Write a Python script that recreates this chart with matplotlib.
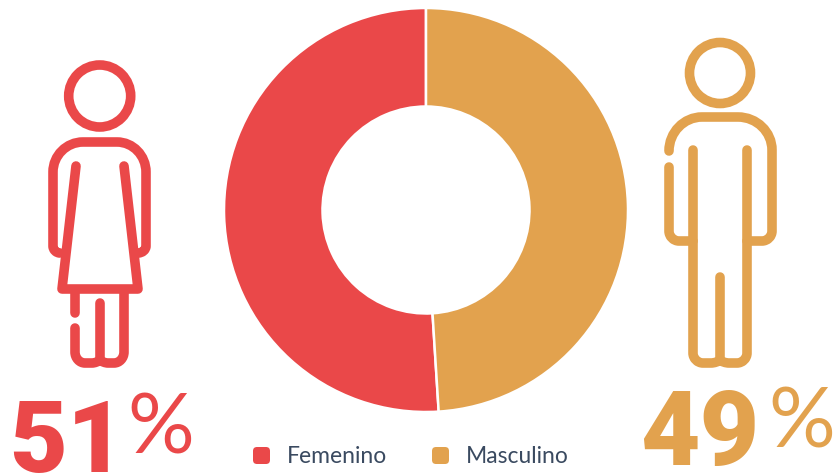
import matplotlib
matplotlib.use("Agg")
import matplotlib.pyplot as plt
from matplotlib.path import Path
from matplotlib.patches import PathPatch, Circle, FancyBboxPatch

categories = ["Femenino", "Masculino"]
values = [51, 49]
colors = ["#EA4849", "#E2A24E"]
W, H = 834, 475
LW = 9.6

fig = plt.figure(figsize=(W / 100, H / 100), dpi=100)
ax = fig.add_axes([0, 0, 1, 1])
ax.pie(values, colors=colors, startangle=90, counterclock=True, center=(426, H - 210), radius=202,
       wedgeprops=dict(width=98.5, edgecolor="white", linewidth=1.8))
ax.set_xlim(0, W)
ax.set_ylim(0, H)
ax.set_aspect("equal")
ax.axis("off")


def Y(y):
    return H - y


def stroke(segs, color, lw=LW):
    """segs: start point then (x, y) for lines, or ('c', ctrl, end) for a rounded corner."""
    verts = [(segs[0][0], Y(segs[0][1]))]
    codes = [Path.MOVETO]
    cur = segs[0]
    for s in segs[1:]:
        if s[0] == "c":
            c, e = s[1], s[2]
            k = 0.55
            verts += [(cur[0] + (c[0] - cur[0]) * k, Y(cur[1] + (c[1] - cur[1]) * k)),
                      (e[0] + (c[0] - e[0]) * k, Y(e[1] + (c[1] - e[1]) * k)),
                      (e[0], Y(e[1]))]
            codes += [Path.CURVE4] * 3
            cur = e
        else:
            verts.append((s[0], Y(s[1])))
            codes.append(Path.LINETO)
            cur = s
    ax.add_patch(PathPatch(Path(verts, codes), fill=False, edgecolor=color, lw=lw * 0.72,
                           capstyle="round", joinstyle="round"))


# Woman icon
r = colors[0]
ax.add_patch(Circle((99.7, Y(96)), 31, fill=False, edgecolor=r, lw=LW * 0.72))
stroke([(60, 253), ("c", (53, 253), (53, 246)), (53, 172), ("c", (53, 142), (83, 142)), (117, 142),
        ("c", (146, 142), (146, 172)), (146, 246), ("c", (146, 253), (138, 253))], r)
stroke([(76, 166), (62, 289), (138, 289), (124, 166)], r)
stroke([(75, 290), (75, 313)], r)
stroke([(75, 328), (75, 352), ("c", (75, 363), (85, 363)), (92, 363), ("c", (97, 363), (100, 360)),
        ("c", (103, 363), (108, 363)), (114, 363), ("c", (124, 363), (124, 352)), (124, 290)], r)
stroke([(100, 303), (100, 360)], r)

# Man icon
o = colors[1]
ax.add_patch(Circle((720, Y(73)), 30.5, fill=False, edgecolor=o, lw=LW * 0.72))
stroke([(669, 151), ("c", (669, 117), (702, 117)), (738, 117), ("c", (772, 117), (772, 150)), (772, 231),
        ("c", (772, 241), (762, 241)), (747, 241)], o)
stroke([(669, 167), (669, 231), ("c", (669, 241), (679, 241)), (693, 241)], o)
stroke([(693, 150), (693, 353), ("c", (693, 363), (703, 363)), (711, 363), ("c", (717, 363), (720, 360)),
        ("c", (723, 363), (729, 363)), (737, 363), ("c", (747, 363), (747, 353)), (747, 150)], o)
stroke([(720, 277), (720, 360)], o)

# Big percent labels
big = dict(family="Roboto", fontweight="black", va="baseline", ha="left")
thin = dict(family="Lato", fontweight="normal", fontsize=60, va="baseline", ha="left")
ax.text(9, Y(472), str(values[0]), color=r, fontsize=72, **big)
ax.text(127, Y(454), "%", color=r, **thin)
ax.text(640, Y(465), str(values[1]), color=o, fontsize=74, **big)
ax.text(768, Y(447), "%", color=o, **thin)

# Legend
for cat, col, mx, tx in zip(categories, colors, (261.5, 440.5), (287, 466)):
    ax.add_patch(FancyBboxPatch((mx - 6, Y(455.5) - 6), 12, 12, boxstyle="round,pad=2.5,rounding_size=4",
                                facecolor=col, edgecolor="none"))
    ax.text(tx, Y(456.5), cat, color="#3A4A60", family="Lato", fontsize=16.5, va="center", ha="left")

fig.savefig("out.png", dpi=100, facecolor="white")
